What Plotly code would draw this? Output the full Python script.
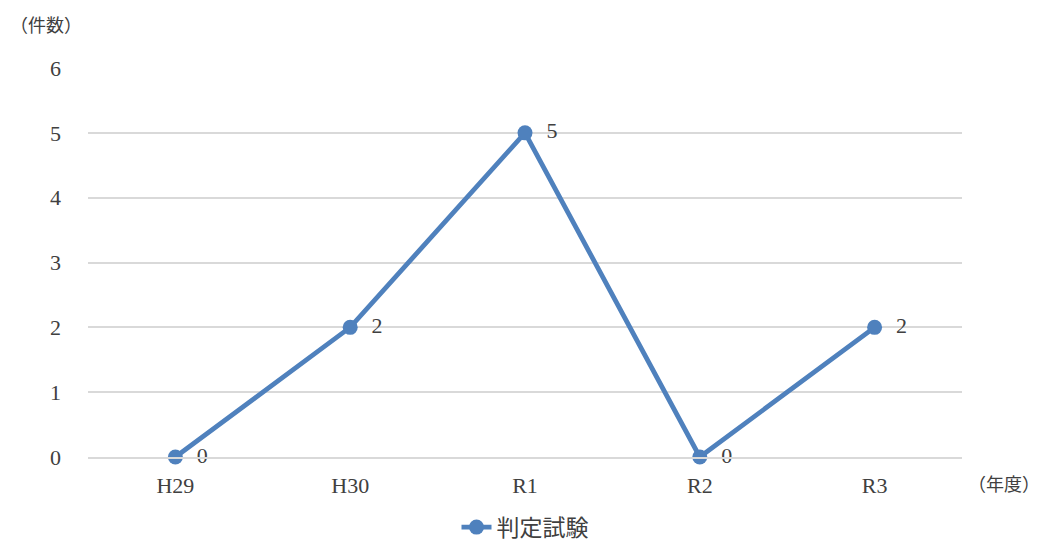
import plotly.graph_objects as go

categories = ["H29", "H30", "R1", "R2", "R3"]
values = [0, 2, 5, 0, 2]
series_name = "判定試験"
y_ticks = [0, 1, 2, 3, 4, 5, 6]

FONT = "Liberation Serif, 'Noto Sans CJK JP', serif"
CJK = "'Noto Sans CJK JP', sans-serif"
COLOR = "#4F81BD"
TEXT = "#404040"

fig = go.Figure()
fig.add_trace(go.Scatter(
    x=categories, y=values, name=series_name,
    mode="lines+markers+text",
    line=dict(color=COLOR, width=4.8),
    marker=dict(color=COLOR, size=15),
    text=["  " + str(v) for v in values],
    textposition="middle right",
    textfont=dict(family=FONT, size=22, color=TEXT),
    cliponaxis=False,
))

fig.update_layout(
    width=1034, height=534,
    margin=dict(l=80, r=80, t=60, b=85, autoexpand=False),
    paper_bgcolor="white", plot_bgcolor="white",
    font=dict(family=FONT, size=22, color=TEXT),
    showlegend=True,
    legend=dict(orientation="h", x=0.5, xanchor="center", y=-0.125, yanchor="top",
                font=dict(family=CJK, size=23, color=TEXT)),
    xaxis=dict(type="category", range=[-0.5, 4.5], showgrid=False,
               showline=True, linecolor="#d9d9d9", linewidth=1.5,
               ticks="", ticklabelstandoff=8, tickfont=dict(size=22)),
    yaxis=dict(range=[0, 6], tickvals=y_ticks, showgrid=True, gridcolor="#d9d9d9",
               gridwidth=1.5, zeroline=False, showline=False, ticks="",
               ticklabelstandoff=26, tickfont=dict(size=22)),
    annotations=[
        dict(text="（件数）", x=0, xref="paper", xshift=-80, y=1, yref="paper", yshift=44,
             xanchor="left", yanchor="middle", showarrow=False,
             font=dict(family=CJK, size=18, color=TEXT)),
        dict(text="（年度）", x=1, xref="paper", xshift=80, y=0, yref="paper", yshift=-26,
             xanchor="right", yanchor="middle", showarrow=False,
             font=dict(family=CJK, size=18, color=TEXT)),
    ],
)

fig.write_html("out.html")
